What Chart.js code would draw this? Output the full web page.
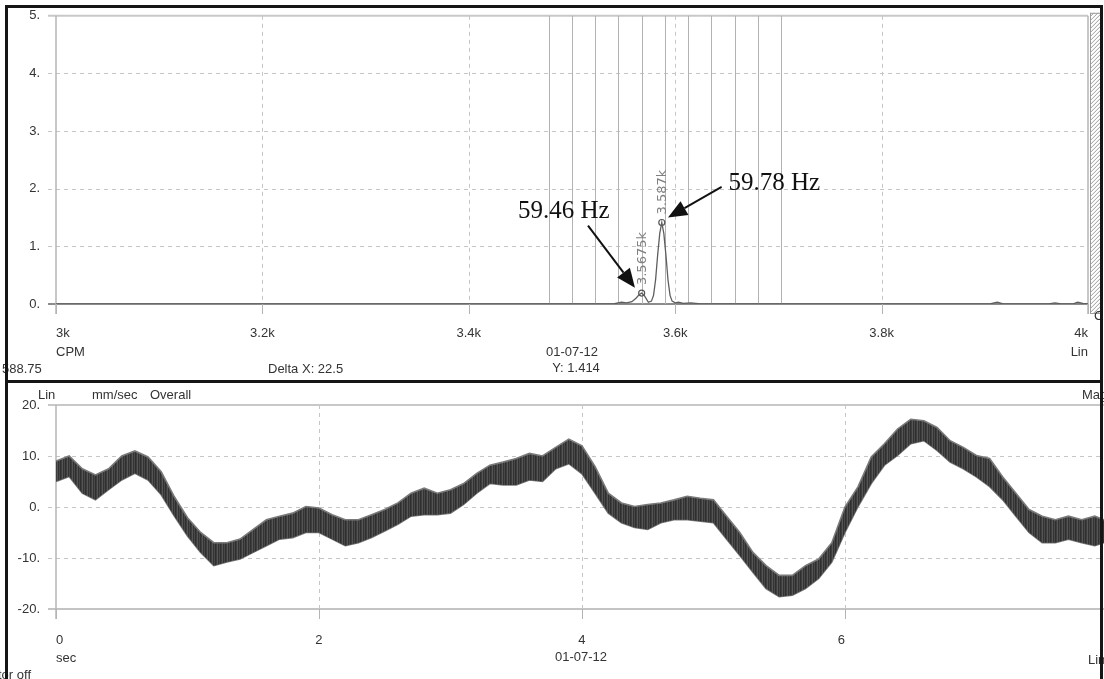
<!DOCTYPE html>
<html>
<head>
<meta charset="utf-8">
<script src="https://cdn.jsdelivr.net/npm/chart.js@4.4.1/dist/chart.umd.min.js"></script>
<style>
  html, body { margin: 0; padding: 0; background: #fff; }
  #wrap { position: relative; width: 1104px; height: 679px; overflow: hidden; background: #fff;
          font-family: "Liberation Sans", Arial, sans-serif; font-size: 13px; color: #333; }
  canvas { position: absolute; left: 0; }
  #topChart { top: 0; }
  #bottomChart { top: 383px; }
  .txt { position: absolute; line-height: 14px; white-space: nowrap; }
  .frame { position: absolute; background: #151515; z-index: 5; }
</style>
</head>
<body>
<div id="wrap">
  <canvas id="topChart" width="1104" height="345"></canvas>
  <canvas id="bottomChart" width="1104" height="296"></canvas>

  <!-- textos del panel superior -->
  <div class="txt" style="left:56px; top:345px;">CPM</div>
  <div class="txt" style="left:1066px; top:345px; width:22px; text-align:right;">Lin</div>
  <div class="txt" style="left:522px; top:345px; width:100px; text-align:center;">01-07-12</div>
  <div class="txt" style="left:526px; top:361px; width:100px; text-align:center;">Y: 1.414</div>
  <div class="txt" style="left:268px; top:362px;">Delta X: 22.5</div>
  <div class="txt" style="left:2px; top:362px;">588.75</div>
  <div class="txt" style="left:1094px; top:309px;">C</div>

  <!-- textos del panel inferior -->
  <div class="txt" style="left:38px; top:388px;">Lin</div>
  <div class="txt" style="left:92px; top:388px;">mm/sec</div>
  <div class="txt" style="left:150px; top:388px;">Overall</div>
  <div class="txt" style="left:1082px; top:388px;">Mag</div>
  <div class="txt" style="left:56px; top:651px;">sec</div>
  <div class="txt" style="left:531px; top:650px; width:100px; text-align:center;">01-07-12</div>
  <div class="txt" style="left:1088px; top:653px;">Lin</div>
  <div class="txt" style="left:-2px; top:668px;">tor off</div>

  <!-- marco -->
  <div class="frame" style="left:5px; top:5px; width:3px; height:674px;"></div>
  <div class="frame" style="left:5px; top:5px; width:1097px; height:3px;"></div>
  <div class="frame" style="left:1100px; top:5px; width:3px; height:674px;"></div>
  <div class="frame" style="left:5px; top:380px; width:1097px; height:3px;"></div>
</div>

<script>
// Espectro (CPM vs amplitud)
const freqCpm = [3000, 3540, 3548, 3553, 3558, 3562, 3565, 3567.5, 3570, 3574, 3577, 3579, 3581, 3583, 3585, 3587,
                 3589, 3591, 3593, 3595, 3597, 3600, 3603, 3608, 3615, 3625, 3700, 3905, 3912, 3918, 3962, 3968,
                 3974, 3985, 3990, 3995, 4000];
const ampSpectrum = [0, 0, 0.03, 0.02, 0.04, 0.1, 0.16, 0.19, 0.15, 0.03, 0.05, 0.15, 0.42, 0.85, 1.22, 1.414,
                     1.22, 0.85, 0.42, 0.15, 0.05, 0.02, 0.03, 0.01, 0.02, 0, 0, 0, 0.03, 0, 0, 0.02,
                     0, 0, 0.03, 0.01, 0];

// Marcadores de pico
const peakFreqs = [3567.5, 3587];
const peakAmps = [0.19, 1.414];
const peakLabels = ['3.5675k', '3.587k'];

// Cursores de bandas laterales (Delta X: 22.5)
const cursorFreqs = [3477.5, 3500, 3522.5, 3545, 3567.5, 3590, 3612.5, 3635, 3657.5, 3680, 3702.5];

// Anotaciones
const noteTexts = ['59.46 Hz', '59.78 Hz'];

// Forma de onda (sec vs mm/sec), bordes superior e inferior de la banda
const timeSec = [0, 0.1, 0.2, 0.3, 0.4, 0.5, 0.6, 0.7, 0.8, 0.9,
                 1.0, 1.1, 1.2, 1.3, 1.4, 1.5, 1.6, 1.7, 1.8, 1.9,
                 2.0, 2.1, 2.2, 2.3, 2.4, 2.5, 2.6, 2.7, 2.8, 2.9,
                 3.0, 3.1, 3.2, 3.3, 3.4, 3.5, 3.6, 3.7, 3.8, 3.9,
                 4.0, 4.1, 4.2, 4.3, 4.4, 4.5, 4.6, 4.7, 4.8, 4.9,
                 5.0, 5.1, 5.2, 5.3, 5.4, 5.5, 5.6, 5.7, 5.8, 5.9,
                 6.0, 6.1, 6.2, 6.3, 6.4, 6.5, 6.6, 6.7, 6.8, 6.9,
                 7.0, 7.1, 7.2, 7.3, 7.4, 7.5, 7.6, 7.7, 7.8, 7.9, 7.97];
const waveUpper = [9, 10, 7.5, 6.3, 7.5, 10, 11, 9.8, 6.9, 2,
                   -2.1, -5, -7, -7, -6.3, -4.4, -2.5, -1.8, -1.2, 0.1,
                   -0.2, -1.5, -2.5, -2.5, -1.5, -0.5, 0.8, 2.7, 3.7, 2.7,
                   3.4, 4.6, 6.6, 8.2, 8.8, 9.5, 10.5, 10, 11.7, 13.3,
                   12, 7.9, 2.7, 0.8, 0.1, 0.5, 0.8, 1.4, 2.1, 1.7,
                   1.4, -1.8, -5, -8.9, -11.5, -13.4, -13.4, -11.5, -10.2, -7,
                   0, 4, 9.8, 12.4, 15.3, 17.2, 16.9, 15.6, 13, 11.7,
                   10.1, 9.5, 5.9, 2.7, -0.5, -1.8, -2.5, -1.8, -2.5, -1.8, -2.5];
const waveLower = [5, 6, 2.7, 1.4, 3.4, 5.3, 6.6, 5.3, 2.4, -1.8,
                   -5.7, -8.9, -11.5, -10.8, -10.2, -8.9, -7.6, -6.3, -6, -5,
                   -5, -6.3, -7.6, -7, -6, -4.7, -3.4, -1.8, -1.5, -1.5,
                   -1.2, 0.5, 2.7, 4.6, 4.3, 4.3, 5.3, 5, 7.5, 8.5,
                   6.5, 2.7, -1.2, -3.1, -4, -4.4, -3.1, -2.5, -2.5, -2.8,
                   -3.1, -6.3, -9.5, -12.8, -16, -17.6, -17.3, -16, -14, -10.8,
                   -5, 0.1, 4.6, 8.2, 10.1, 12.4, 13, 11.1, 8.8, 7.5,
                   5.9, 4, 1.4, -1.8, -5, -7, -7, -6.3, -7, -7.6, -7];

const tickFont = { family: '"Liberation Sans", Arial, sans-serif', size: 13 };

// Textura de rayas verticales para la banda de la forma de onda
function makeStripePattern() {
    const c = document.createElement('canvas');
    c.width = 5; c.height = 8;
    const g = c.getContext('2d');
    const cols = ['#2f2f2f', '#3d3d3d', '#555555', '#333333', '#484848'];
    cols.forEach((col, i) => { g.fillStyle = col; g.fillRect(i, 0, 1, 8); });
    return document.getElementById('bottomChart').getContext('2d').createPattern(c, 'repeat');
}

// Rejilla punteada y ejes dibujados a mano
function makeGridPlugin(opts) {
    return {
        id: 'customGrid',
        beforeDatasetsDraw(chart) {
            const ctx = chart.ctx;
            const a = chart.chartArea;
            const xs = chart.scales.x, ys = chart.scales.y;
            ctx.save();
            ctx.lineWidth = 1;
            ctx.strokeStyle = '#c6c6c6';
            ctx.setLineDash([4, 4]);
            ys.ticks.forEach(t => {
                if (t.value === ys.min || t.value === ys.max) return;
                const py = Math.round(ys.getPixelForValue(t.value)) + 0.5;
                ctx.beginPath(); ctx.moveTo(a.left - 8, py); ctx.lineTo(a.right, py); ctx.stroke();
            });
            xs.ticks.forEach(t => {
                if (t.value === xs.min || t.value === xs.max) return;
                const px = Math.round(xs.getPixelForValue(t.value)) + 0.5;
                ctx.beginPath(); ctx.moveTo(px, a.top); ctx.lineTo(px, a.bottom + 10); ctx.stroke();
            });
            ctx.setLineDash([]);
            // borde superior
            ctx.strokeStyle = '#c8c8c8';
            ctx.lineWidth = 2;
            ctx.beginPath(); ctx.moveTo(a.left - 8, a.top); ctx.lineTo(a.right, a.top); ctx.stroke();
            // eje inferior
            ctx.strokeStyle = opts.baseColor;
            ctx.beginPath(); ctx.moveTo(a.left - 8, a.bottom); ctx.lineTo(a.right, a.bottom); ctx.stroke();
            // eje izquierdo
            ctx.strokeStyle = '#b4b4b4';
            ctx.lineWidth = 1.5;
            ctx.beginPath(); ctx.moveTo(a.left, a.top); ctx.lineTo(a.left, a.bottom + 10); ctx.stroke();
            if (opts.rightEdge) {
                ctx.beginPath(); ctx.moveTo(a.right, a.top); ctx.lineTo(a.right, a.bottom + 10); ctx.stroke();
            }
            // marcas bajo el eje x
            ctx.strokeStyle = '#b4b4b4';
            ctx.lineWidth = 1;
            xs.ticks.forEach(t => {
                const px = Math.round(xs.getPixelForValue(t.value)) + 0.5;
                ctx.beginPath(); ctx.moveTo(px, a.bottom); ctx.lineTo(px, a.bottom + 10); ctx.stroke();
            });
            ctx.restore();
        }
    };
}

// Flecha con punta rellena
function drawArrow(ctx, x1, y1, x2, y2) {
    const ang = Math.atan2(y2 - y1, x2 - x1);
    const len = 19, half = 8;
    const bx = x2 - len * Math.cos(ang), by = y2 - len * Math.sin(ang);
    ctx.beginPath(); ctx.moveTo(x1, y1); ctx.lineTo(bx, by); ctx.stroke();
    ctx.beginPath();
    ctx.moveTo(x2, y2);
    ctx.lineTo(bx + half * Math.sin(ang), by - half * Math.cos(ang));
    ctx.lineTo(bx - half * Math.sin(ang), by + half * Math.cos(ang));
    ctx.closePath(); ctx.fill();
}

// Cursores verticales, zona rayada, etiquetas de pico y flechas
const spectrumDecor = {
    id: 'spectrumDecor',
    beforeDatasetsDraw(chart) {
        const ctx = chart.ctx;
        const a = chart.chartArea;
        const xs = chart.scales.x, ys = chart.scales.y;
        ctx.save();
        ctx.strokeStyle = '#b2b2b2';
        ctx.lineWidth = 1;
        cursorFreqs.forEach(f => {
            const px = Math.round(xs.getPixelForValue(f)) + 0.5;
            ctx.beginPath(); ctx.moveTo(px, a.top); ctx.lineTo(px, ys.getPixelForValue(0)); ctx.stroke();
        });
        // zona rayada a la derecha
        const hx = a.right + 2, hw = 10, hy = a.top - 3, hh = a.bottom + 9 - hy;
        ctx.strokeStyle = '#9a9a9a';
        ctx.strokeRect(hx + 0.5, hy + 0.5, hw, hh);
        ctx.beginPath(); ctx.rect(hx, hy, hw + 1, hh + 1); ctx.clip();
        ctx.beginPath();
        for (let k = 0; k < hh + hw + 4; k += 4) {
            ctx.moveTo(hx, hy + k);
            ctx.lineTo(hx + hw + 1, hy + k - hw - 1);
        }
        ctx.stroke();
        ctx.restore();
    },
    afterDatasetsDraw(chart) {
        const ctx = chart.ctx;
        const xs = chart.scales.x, ys = chart.scales.y;
        ctx.save();
        // etiquetas verticales de los picos
        ctx.fillStyle = '#808080';
        ctx.font = '13px "DejaVu Sans", sans-serif';
        ctx.textAlign = 'left';
        ctx.textBaseline = 'middle';
        peakFreqs.forEach((f, i) => {
            const px = xs.getPixelForValue(f) + 1;
            const py = ys.getPixelForValue(peakAmps[i]) - 8;
            ctx.save();
            ctx.translate(px, py);
            ctx.rotate(-Math.PI / 2);
            ctx.fillText(peakLabels[i], 0, 0);
            ctx.restore();
        });
        // anotaciones con flechas
        ctx.fillStyle = '#111';
        ctx.strokeStyle = '#111';
        ctx.lineWidth = 2;
        ctx.font = '25px "Liberation Serif", "Times New Roman", serif';
        ctx.textAlign = 'center';
        ctx.fillText(noteTexts[0], xs.getPixelForValue(3492), ys.getPixelForValue(1.6));
        ctx.fillText(noteTexts[1], xs.getPixelForValue(3696), ys.getPixelForValue(2.1));
        drawArrow(ctx, xs.getPixelForValue(3515.5), ys.getPixelForValue(1.36),
                       xs.getPixelForValue(3561), ys.getPixelForValue(0.28));
        drawArrow(ctx, xs.getPixelForValue(3645), ys.getPixelForValue(2.03),
                       xs.getPixelForValue(3593), ys.getPixelForValue(1.5));
        ctx.restore();
    }
};

function initSpectrumChart() {
    const ctx = document.getElementById('topChart').getContext('2d');
    return new Chart(ctx, {
        type: 'scatter',
        data: {
            datasets: [{
                data: freqCpm.map((f, i) => ({ x: f, y: ampSpectrum[i] })),
                showLine: true,
                borderColor: '#5e5e5e',
                borderWidth: 1.3,
                pointRadius: 0,
                tension: 0
            }, {
                data: peakFreqs.map((f, i) => ({ x: f, y: peakAmps[i] })),
                showLine: false,
                pointRadius: 3,
                pointBorderWidth: 1.2,
                pointBorderColor: '#555',
                pointBackgroundColor: 'rgba(255,255,255,0)'
            }]
        },
        options: {
            responsive: false,
            animation: false,
            devicePixelRatio: 1,
            layout: { padding: { top: 14, right: 16, left: 0, bottom: 0 } },
            plugins: { legend: { display: false }, tooltip: { enabled: false } },
            scales: {
                x: {
                    type: 'linear', min: 3000, max: 4000,
                    afterFit: s => { s.height = 41; },
                    grid: { display: true, drawOnChartArea: false, drawTicks: true, tickLength: 10, color: 'rgba(0,0,0,0)' },
                    border: { display: false },
                    ticks: { stepSize: 200, align: 'inner', maxRotation: 0, padding: 12, color: '#333', font: tickFont,
                             callback: v => (v / 1000) + 'k' }
                },
                y: {
                    min: 0, max: 5,
                    afterFit: s => { s.width = 56; },
                    grid: { display: true, drawOnChartArea: false, drawTicks: true, tickLength: 8, color: 'rgba(0,0,0,0)' },
                    border: { display: false },
                    ticks: { stepSize: 1, padding: 8, color: '#333', font: tickFont, callback: v => v + '.' }
                }
            }
        },
        plugins: [makeGridPlugin({ baseColor: '#8c8c8c', rightEdge: true }), spectrumDecor]
    });
}

function initWaveformChart() {
    const ctx = document.getElementById('bottomChart').getContext('2d');
    return new Chart(ctx, {
        type: 'line',
        data: {
            datasets: [{
                data: timeSec.map((t, i) => ({ x: t, y: waveUpper[i] })),
                borderColor: '#7a7a7a',
                borderWidth: 1.6,
                backgroundColor: makeStripePattern(),
                fill: '+1',
                pointRadius: 0,
                tension: 0
            }, {
                data: timeSec.map((t, i) => ({ x: t, y: waveLower[i] })),
                borderColor: '#7a7a7a',
                borderWidth: 1.6,
                fill: false,
                pointRadius: 0,
                tension: 0
            }]
        },
        options: {
            responsive: false,
            animation: false,
            devicePixelRatio: 1,
            layout: { padding: { top: 22, right: 0, left: 0, bottom: 0 } },
            plugins: { legend: { display: false }, tooltip: { enabled: false } },
            scales: {
                x: {
                    type: 'linear', min: 0, max: 7.97,
                    afterFit: s => { s.height = 70; },
                    grid: { display: true, drawOnChartArea: false, drawTicks: true, tickLength: 10, color: 'rgba(0,0,0,0)' },
                    border: { display: false },
                    ticks: { stepSize: 2, includeBounds: false, align: 'inner', maxRotation: 0, padding: 14,
                             color: '#333', font: tickFont }
                },
                y: {
                    min: -20, max: 20,
                    afterFit: s => { s.width = 56; },
                    grid: { display: true, drawOnChartArea: false, drawTicks: true, tickLength: 8, color: 'rgba(0,0,0,0)' },
                    border: { display: false },
                    ticks: { stepSize: 10, padding: 8, color: '#333', font: tickFont, callback: v => v + '.' }
                }
            }
        },
        plugins: [makeGridPlugin({ baseColor: '#c4c4c4', rightEdge: false })]
    });
}

initSpectrumChart();
initWaveformChart();
</script>
</body>
</html>
